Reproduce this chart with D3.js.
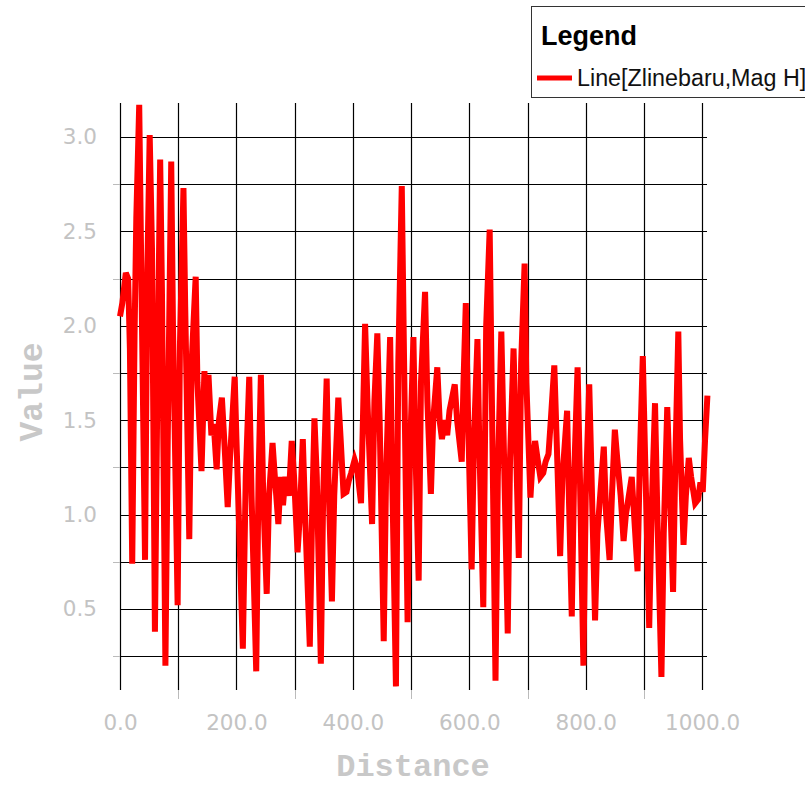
<!DOCTYPE html>
<html><head><meta charset="utf-8">
<script src="https://cdn.jsdelivr.net/npm/d3@7/dist/d3.min.js"></script>
<style>body{margin:0;background:#fff;}svg{display:block;}</style>
</head><body>
<svg id="c" width="805" height="786"></svg>
<script>
const distance = [0,4,10,14,17,21,25,28,33,38,43,47,51,55,60,64,69,72,78,82,88,91,99,103,109,112,119,123,130,133,140,145,148,152,157,161,166,170,175,179,185,189,197,200,205,211,216,222,226,234,238,242,246,252,256,262,266,272,276,280,284,290,295,299,305,309,314,318,326,330,334,338,345,349,355,358,364,368,375,379,384,389,393,397,403,407,414,418,421,425,433,437,442,446,453,457,464,467,474,478,484,488,494,498,504,507,513,517,524,528,534,538,545,549,553,558,562,566,575,579,587,590,594,598,604,608,614,617,624,629,635,638,645,649,655,659,666,670,676,680,685,689,695,698,705,708,713,717,722,727,731,736,740,746,750,756,760,768,771,776,780,786,790,796,800,806,810,816,820,831,835,841,845,850,854,860,865,869,879,883,889,893,898,902,909,913,919,923,930,934,940,944,950,954,959,962,968,972,977,981,988,993,997,1001,1005,1009];
const magH = [2.05,2.12,2.28,2.25,1.88,0.74,1.95,2.57,3.17,1.95,0.76,2.3,3.01,2.4,0.38,1.6,2.88,2.2,0.2,1.4,2.87,2.0,0.52,1.9,2.73,2.1,0.87,1.8,2.26,1.7,1.23,1.76,1.5,1.74,1.42,1.48,1.24,1.5,1.62,1.4,1.04,1.3,1.73,1.4,0.9,0.29,1.2,1.73,1.1,0.17,1.2,1.74,1.1,0.58,1.1,1.38,1.2,0.95,1.2,1.05,1.2,1.1,1.39,1.2,0.8,1.0,1.4,1.0,0.3,1.0,1.51,1.2,0.21,1.1,1.72,1.2,0.54,1.1,1.62,1.4,1.11,1.12,1.18,1.22,1.29,1.25,1.06,1.6,2.01,1.6,0.95,1.6,1.96,1.5,0.33,1.2,1.94,1.3,0.09,1.8,2.74,1.8,0.43,1.3,1.94,1.4,0.65,1.7,2.18,1.6,1.11,1.5,1.78,1.5,1.4,1.5,1.42,1.55,1.69,1.5,1.28,1.7,2.12,1.5,0.71,1.4,1.93,1.4,0.51,2.0,2.51,1.8,0.12,1.2,1.97,1.4,0.37,1.3,1.88,1.4,0.77,1.8,2.33,1.7,1.09,1.25,1.39,1.3,1.2,1.22,1.28,1.32,1.5,1.79,1.4,0.78,1.2,1.55,1.1,0.46,1.2,1.78,1.2,0.2,1.1,1.69,1.2,0.44,0.9,1.36,1.0,0.76,1.1,1.45,1.3,1.1,0.86,1.0,1.2,1.0,0.7,1.3,1.84,1.3,0.4,1.0,1.59,1.0,0.14,0.9,1.57,1.2,0.59,1.3,1.97,1.4,0.84,1.1,1.3,1.2,1.06,1.08,1.17,1.12,1.4,1.63];
const xTickLabels = [0,200,400,600,800,1000];
const xGridValues = [0,100,200,300,400,500,600,700,800,900,1000];
const yTickLabels = [0.5,1.0,1.5,2.0,2.5,3.0];
const yGridValues = [0.25,0.5,0.75,1.0,1.25,1.5,1.75,2.0,2.25,2.5,2.75,3.0];
const legendTitle = "Legend";
const seriesName = "Line[Zlinebaru,Mag H]";

const svg = d3.select("#c");
const pLeft = 120, pRight = 708, pTop = 103, pBottom = 690;
const x = d3.scaleLinear().domain([0, 1010]).range([pLeft, pRight]);
const y = d3.scaleLinear().domain([3 - (pBottom - 137) / 188.8, 3 + (137 - pTop) / 188.8]).range([pBottom, pTop]);

// grid
const g = svg.append("g");
g.selectAll(".vg").data(xGridValues).enter().append("line")
  .attr("x1", d => Math.round(x(d)) + 0.5).attr("x2", d => Math.round(x(d)) + 0.5)
  .attr("y1", pTop).attr("y2", pBottom).attr("stroke", "#000").attr("stroke-width", 1.2);
g.selectAll(".vt").data(xGridValues.filter(d => d % 200 !== 0)).enter().append("line")
  .attr("x1", d => Math.round(x(d)) + 0.5).attr("x2", d => Math.round(x(d)) + 0.5)
  .attr("y1", pBottom).attr("y2", pBottom + 9).attr("stroke", "#bbb").attr("stroke-width", 1);
g.selectAll(".hg").data(yGridValues).enter().append("line")
  .attr("x1", pLeft).attr("x2", pRight - 1)
  .attr("y1", d => Math.round(y(d)) + 0.5).attr("y2", d => Math.round(y(d)) + 0.5)
  .attr("stroke", "#000").attr("stroke-width", 1.2);
g.selectAll(".ht").data(yGridValues.filter(d => Math.abs(d * 2 - Math.round(d * 2)) > 0.01)).enter().append("line")
  .attr("x1", pLeft - 7).attr("x2", pLeft)
  .attr("y1", d => Math.round(y(d)) + 0.5).attr("y2", d => Math.round(y(d)) + 0.5)
  .attr("stroke", "#bbb").attr("stroke-width", 1);

// tick labels via axes
const tickFont = "'DejaVu Sans', Verdana, sans-serif";
const xAxis = d3.axisBottom(x).tickValues(xTickLabels).tickFormat(d3.format(".1f")).tickSize(0).tickPadding(0);
const xa = svg.append("g").attr("transform", `translate(0,${pBottom})`).call(xAxis);
xa.select(".domain").remove();
xa.selectAll("text").attr("dy", null).attr("y", 40).attr("fill", "#c3c3c3")
  .style("font-family", tickFont).style("font-size", "21.5px");

const yAxis = d3.axisLeft(y).tickValues(yTickLabels).tickFormat(d3.format(".1f")).tickSize(0).tickPadding(0);
const ya = svg.append("g").attr("transform", `translate(97,0)`).call(yAxis);
ya.select(".domain").remove();
ya.selectAll("text").attr("fill", "#c3c3c3")
  .style("font-family", tickFont).style("font-size", "21.5px");

// axis titles
svg.append("text").attr("x", 413).attr("y", 776).attr("text-anchor", "middle")
  .attr("fill", "#c8c8c8").style("font-family", "'Liberation Mono', 'Courier New', monospace")
  .style("font-weight", "bold").style("font-size", "32px").text("Distance");
svg.append("text").attr("transform", "translate(42,392) rotate(-90)").attr("text-anchor", "middle")
  .attr("fill", "#c8c8c8").style("font-family", "'Liberation Mono', 'Courier New', monospace")
  .style("font-weight", "bold").style("font-size", "33px").text("Value");

// data line
const pts = distance.map((d, i) => [d, magH[i]]);
const line = d3.line().x(d => x(d[0])).y(d => y(d[1]));
svg.append("path").datum(pts).attr("d", line).attr("fill", "none")
  .attr("stroke", "#ff0000").attr("stroke-width", 6).attr("stroke-linejoin", "miter");

// legend
const lg = svg.append("g");
lg.append("rect").attr("x", 531.5).attr("y", 6.5).attr("width", 300).attr("height", 91)
  .attr("fill", "#fff").attr("stroke", "#333").attr("stroke-width", 1);
lg.append("text").attr("x", 541).attr("y", 45).attr("fill", "#000")
  .style("font-family", "'Liberation Sans', Arial, sans-serif").style("font-weight", "bold").style("font-size", "27px").text(legendTitle);
lg.append("line").attr("x1", 537).attr("x2", 572).attr("y1", 78).attr("y2", 78)
  .attr("stroke", "#ff0000").attr("stroke-width", 5);
lg.append("text").attr("x", 577).attr("y", 86).attr("fill", "#111")
  .style("font-family", "'Liberation Sans', Arial, sans-serif").style("font-size", "23.3px").text(seriesName);
</script>
</body></html>
